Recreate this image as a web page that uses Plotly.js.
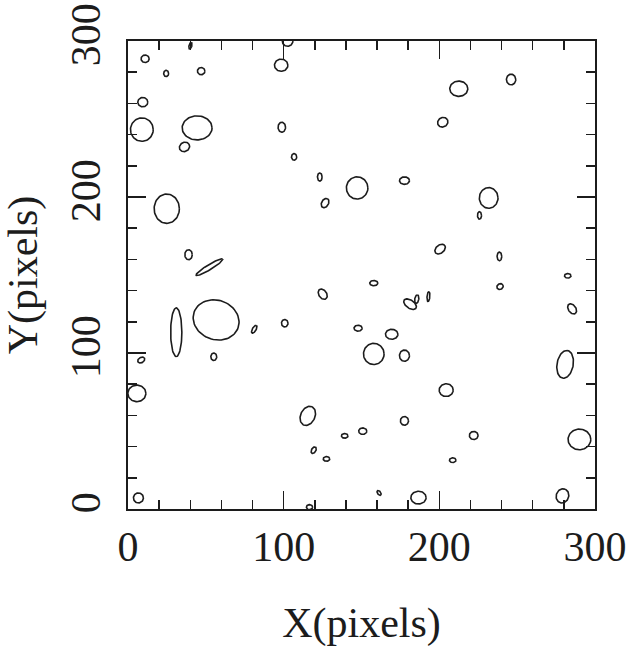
<!DOCTYPE html>
<html>
<head>
<meta charset="utf-8">
<script src="https://cdn.plot.ly/plotly-3.0.1.min.js"></script>
<style>html,body{margin:0;padding:0;background:#fff;}#chart{width:633px;height:651px;}</style>
</head>
<body>
<div id="chart"></div>
<script>
// Ellipse centres (data units), semi-axes and rotation angle (degrees)
const ellX = [11.0, 24.5, 47.0, 9.5, 8.9, 44.4, 36.3, 98.8, 106.7, 123.2, 126.6, 147.2, 24.9, 38.9, 52.3, 102.5, 98.4, 40.1,
  212.5, 246.1, 202.2, 177.6, 231.7, 225.8, 200.5, 238.6, 282.5,
  125.1, 56.6, 31.0, 81.1, 100.7, 147.8, 157.9, 8.5, 55.1, 5.7, 115.5, 119.3, 127.5, 139.2, 150.8, 6.7, 116.6,
  157.9, 181.2, 185.5, 193.0, 239.0, 285.3, 169.4, 177.6, 280.8, 204.4, 177.6, 222.1, 208.6, 290.0, 161.3, 186.6, 279.1];
const ellY = [288.6, 279.2, 280.7, 260.8, 243.2, 244.3, 232.1, 244.7, 225.7, 212.8, 196.1, 205.8, 192.5, 163.0, 155.0, 300.0, 284.5, 297.0,
  269.4, 275.3, 247.9, 210.5, 199.4, 188.2, 166.6, 161.9, 149.5,
  137.7, 121.2, 113.3, 115.2, 119.1, 115.9, 99.4, 95.5, 97.6, 74.1, 59.7, 37.7, 32.1, 46.9, 49.9, 7.1, 1.2,
  144.8, 131.3, 134.5, 136.2, 142.6, 128.3, 112.0, 98.3, 92.7, 76.2, 56.5, 47.1, 31.3, 44.6, 10.3, 7.3, 8.4];
const ellA = [2.6, 1.6, 2.4, 3.2, 7.3, 9.6, 3.4, 2.4, 1.7, 1.5, 3.2, 6.9, 8.1, 2.4, 10.0, 3.4, 4.3, 2.2,
  5.8, 3.0, 3.4, 3.2, 6.0, 1.3, 3.8, 1.5, 2.1,
  3.6, 15.0, 3.6, 2.8, 2.1, 2.6, 6.6, 2.4, 1.9, 5.8, 6.4, 2.3, 2.1, 2.1, 2.6, 3.2, 2.0,
  2.6, 4.6, 2.8, 3.2, 2.1, 3.6, 4.0, 3.2, 9.0, 4.5, 2.6, 2.8, 2.1, 7.3, 1.8, 4.9, 4.6];
const ellB = [2.4, 2.0, 2.3, 3.0, 7.5, 7.7, 2.9, 3.2, 2.1, 2.6, 2.2, 7.1, 9.4, 3.2, 1.6, 3.4, 3.9, 0.9,
  4.9, 3.4, 3.0, 2.4, 6.6, 2.4, 2.6, 2.8, 1.5,
  2.5, 12.6, 15.6, 1.2, 2.4, 1.9, 6.8, 1.7, 2.4, 5.3, 4.6, 1.4, 1.5, 1.5, 2.1, 3.2, 1.6,
  1.7, 2.6, 1.3, 0.9, 1.8, 2.4, 3.2, 3.6, 5.2, 4.1, 2.8, 2.6, 1.5, 6.6, 1.0, 4.1, 4.0];
const ellAng = [0, 0, 0, 0, 0, 0, 30, 0, 0, 0, 60, 0, 0, 0, 31, 0, 0, 75,
  0, 0, 30, 0, 0, 0, 40, 0, 0,
  -55, -20, 0, 60, 0, 0, 0, 30, 0, 0, 65, 60, 0, 0, 0, 0, 0,
  0, -35, 80, 85, 30, -55, 0, 0, 80, 0, 0, 0, 0, 0, -55, 0, 70];
const xTickLabels = ['0', '100', '200', '300'];
const yTickLabels = ['0', '100', '200', '300'];

// outline geometry for each ellipse
const px = [], py = [];
const N = 72;
for (let i = 0; i < ellX.length; i++) {
  const t = ellAng[i] * Math.PI / 180;
  for (let k = 0; k <= N; k++) {
    const u = 2 * Math.PI * k / N;
    const dx = ellA[i] * Math.cos(u), dy = ellB[i] * Math.sin(u);
    px.push(ellX[i] + dx * Math.cos(t) - dy * Math.sin(t));
    py.push(ellY[i] + dx * Math.sin(t) + dy * Math.cos(t));
  }
  px.push(null); py.push(null);
}

const FONT = 'Liberation Serif, serif';
const INK = '#1c1c1c';
const axisCommon = {
  range: [0, 300], autorange: false, fixedrange: true,
  showgrid: false, zeroline: false,
  showline: true, linecolor: INK, linewidth: 1.8, mirror: 'ticks',
  ticks: 'inside', ticklen: 18, tickwidth: 1.5, tickcolor: INK,
  tickmode: 'array', tickvals: [0, 100, 200, 300],
  minor: {dtick: 20, tick0: 0, ticks: 'inside', ticklen: 9, tickwidth: 1.5, tickcolor: INK},
  tickfont: {family: FONT, size: 42, color: INK},
  automargin: false
};
const layout = {
  width: 633, height: 651,
  margin: {l: 128, r: 38, t: 41, b: 142},
  paper_bgcolor: '#fff', plot_bgcolor: '#fff',
  showlegend: false,
  xaxis: Object.assign({}, axisCommon, {
    ticktext: xTickLabels, ticklabelstandoff: 0,
    title: {text: 'X(pixels)', font: {family: FONT, size: 42, color: INK}, standoff: 38}
  }),
  yaxis: Object.assign({}, axisCommon, {
    ticktext: yTickLabels, tickangle: -90, ticklabelstandoff: 9,
    title: {text: 'Y(pixels)', font: {family: FONT, size: 42, color: INK}, standoff: 20}
  })
};
Plotly.newPlot('chart', [{
  type: 'scatter', mode: 'lines', x: px, y: py,
  line: {color: INK, width: 1.6}, hoverinfo: 'skip', connectgaps: false
}], layout, {staticPlot: true, displayModeBar: false});
</script>
</body>
</html>
